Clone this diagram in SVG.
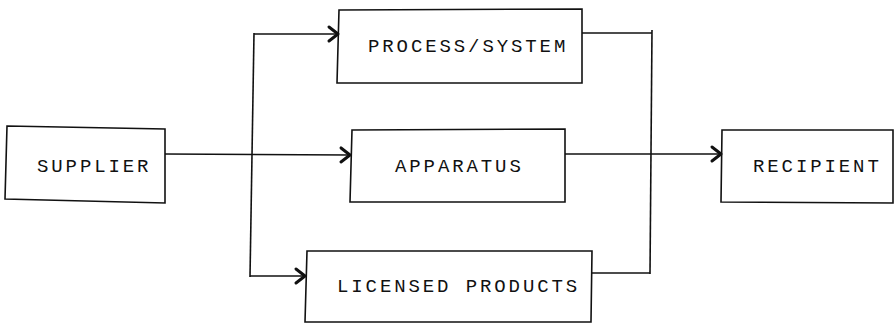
<svg xmlns="http://www.w3.org/2000/svg" width="896" height="325" viewBox="0 0 896 325">
  <style>
    .box { fill: none; stroke: #111; stroke-width: 1.6; stroke-linejoin: miter; }
    .wire { fill: none; stroke: #111; stroke-width: 1.6; }
    .label { font-family: "Liberation Mono", "Courier New", monospace; font-size: 19px; letter-spacing: 2.9px; fill: #111; }
  </style>
  <defs>
    <marker id="head" markerUnits="userSpaceOnUse" markerWidth="14" markerHeight="18" refX="11" refY="9" orient="auto" overflow="visible">
      <path d="M2,2 L11,9 L2,16" fill="none" stroke="#111" stroke-width="3" stroke-linecap="round" stroke-linejoin="round"/>
    </marker>
  </defs>
  <rect width="896" height="325" fill="#fff"/>

  <g id="supplier">
    <path class="box" d="M7,126 L165,129 L165,203 L5,199 Z"/>
    <text class="label" x="37" y="172">SUPPLIER</text>
  </g>

  <g id="process-system">
    <path class="box" d="M339,10 L582,9 L582,83 L337,83 Z"/>
    <text class="label" x="368" y="52">PROCESS/SYSTEM</text>
  </g>

  <g id="apparatus">
    <path class="box" d="M352,130 L565,129 L565,202 L350,202 Z"/>
    <text class="label" x="395" y="172">APPARATUS</text>
  </g>

  <g id="licensed-products">
    <path class="box" d="M307,251 L592,251 L591,322 L305,322 Z"/>
    <text class="label" x="337" y="292">LICENSED PRODUCTS</text>
  </g>

  <g id="recipient">
    <path class="box" d="M722,130 L893,130 L893,203 L721,202 Z"/>
    <text class="label" x="753" y="172">RECIPIENT</text>
  </g>

  <g id="connectors">
    <!-- supplier feeds the apparatus directly -->
    <path class="wire" d="M165,154 L350,155" marker-end="url(#head)"/>
    <!-- distribution bus on the left -->
    <path class="wire" d="M254,33 L250,277"/>
    <path class="wire" d="M254,34 L338,34" marker-end="url(#head)"/>
    <path class="wire" d="M250,276 L305,276" marker-end="url(#head)"/>
    <!-- collection bus on the right -->
    <path class="wire" d="M582,33 L652,33"/>
    <path class="wire" d="M652,30 L650,274"/>
    <path class="wire" d="M592,273 L650,273"/>
    <!-- apparatus to recipient -->
    <path class="wire" d="M565,154 L721,154" marker-end="url(#head)"/>
  </g>
</svg>
